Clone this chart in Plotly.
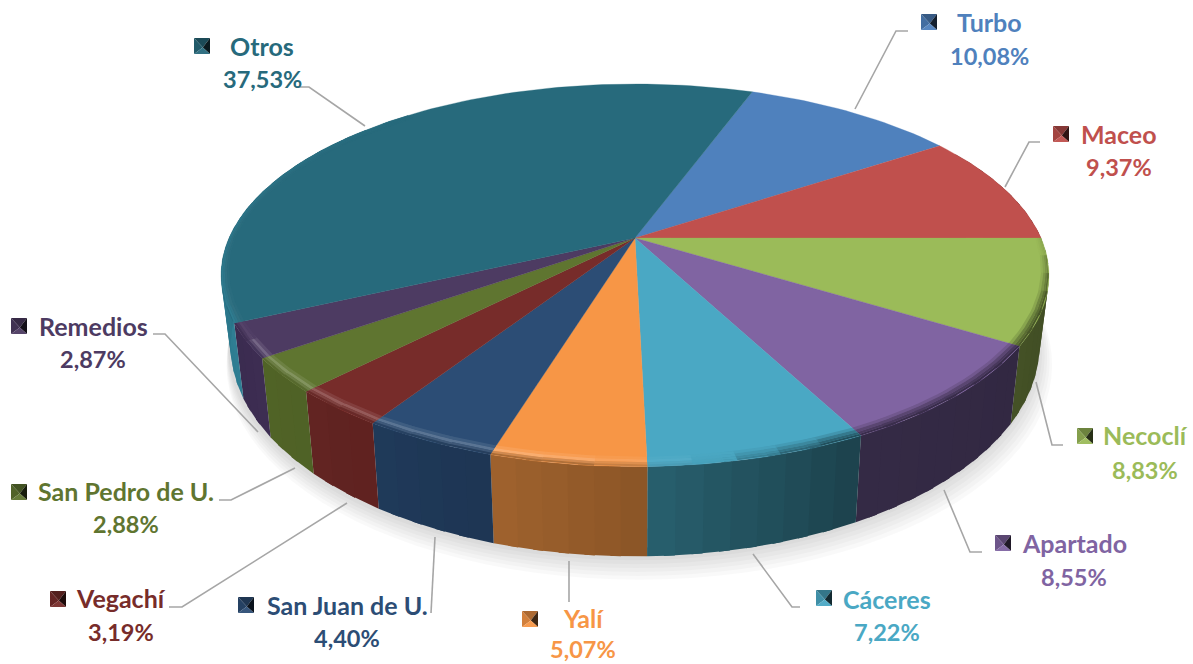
import math
import plotly.graph_objects as go

# ---- data ----
names = ["Turbo", "Maceo", "Necoclí", "Apartado", "Cáceres", "Yalí",
         "San Juan de U.", "Vegachí", "San Pedro de U.", "Remedios", "Otros"]
shares = [10.08, 9.37, 8.83, 8.55, 7.22, 5.07, 4.40, 3.19, 2.88, 2.87, 37.53]
share_labels = ["10,08%", "9,37%", "8,83%", "8,55%", "7,22%", "5,07%",
                "4,40%", "3,19%", "2,88%", "2,87%", "37,53%"]

# ---- styles ----
top_colors = ["#4f81bd", "#c0504d", "#9bbb59", "#8064a2", "#4aa8c4", "#f79646",
              "#2c4d75", "#772c2a", "#5f7530", "#4d3b62", "#276a7c"]
wall_right = ["#2f4d72", "#6f2e2c", "#3e4a22", "#322842", "#1c414c", "#8a5526",
              "#1e3553", "#5f2220", "#4f6226", "#3d2d52", "#1f6070"]
wall_left = ["#2f4d72", "#6f2e2c", "#445126", "#342a45", "#28606e", "#a0622e",
             "#1f3a5a", "#622422", "#506326", "#3b2c50", "#2f7f94"]

# ---- layout of the picture (pixels of the 1193x664 canvas) ----
W, H = 1193, 664
CX, CY = 635, 238          # pie apex
A, B, K = 406, 184, 0.195  # disc perspective
START = 20.0               # clockwise angle of the first slice, degrees
DEPTH_SX, DEPTH_SY, DEPTH_DY = 0.977, 1.10, 43.2

label_pos = [(989, 22, 56), (1119, 134, 167), (1145, 435, 470), (1074, 543, 577),
             (887, 599, 632), (583, 618, 649), (347, 605, 638), (121, 598, 632),
             (126, 491, 524), (93, 326, 359), (262, 46, 79)]
marker_pos = [(921, 14), (1053, 126), (1077, 428), (995, 535), (816, 590), (522, 611),
              (238, 597), (50, 591), (11, 484), (11, 318), (194, 38)]
leader_x = [[908, 896, 855], [1040, 1029, 1005], [1063, 1052, 1036], [982, 970, 944],
            [800, 792, 753], [569, 569], [431, 435], [169, 182, 347],
            [219, 231, 295], [153, 165, 258], [297, 309, 365]]
leader_y = [[31, 31, 109], [142, 142, 187], [445, 445, 382], [552, 552, 490],
            [607, 607, 554], [602, 561], [613, 537], [607, 607, 503],
            [500, 500, 468], [334, 334, 432], [87, 87, 126]]
MARKER = 16


def top_pt(r, deg):
    t = math.radians(deg)
    u, v = r * math.sin(t), -r * math.cos(t)
    w = 1 - K * v
    return CX + A * u / w, CY + B * v / w


def low_pt(r, deg):
    x, y = top_pt(r, deg)
    return CX + DEPTH_SX * (x - CX), DEPTH_SY * y + DEPTH_DY


def rgb(c):
    c = c.lstrip("#")
    return [int(c[i:i + 2], 16) for i in (0, 2, 4)]


def mix(c1, c2, f):
    a, b = rgb(c1), rgb(c2)
    return "#%02x%02x%02x" % tuple(round(a[i] + (b[i] - a[i]) * f) for i in range(3))


fig = go.Figure()


def poly(xs, ys, color, line=0.6):
    fig.add_trace(go.Scatter(x=xs + xs[:1], y=ys + ys[:1], mode="lines", fill="toself",
                             fillcolor=color, line=dict(color=color, width=line),
                             hoverinfo="skip", showlegend=False))


# slice limits from the values
total = sum(shares)
edges = [START]
for s in shares:
    edges.append(edges[-1] + s / total * 360)

# soft shadow under the pie
for off in (18, 15, 12, 9, 6, 3):
    pts = [low_pt(1 + off / 900, d) for d in range(0, 361, 3)]
    fig.add_trace(go.Scatter(x=[p[0] + off * 0.35 - 2 for p in pts], y=[p[1] + off * 0.95 for p in pts],
                             mode="lines", fill="toself", fillcolor="rgba(0,0,0,0.022)",
                             line=dict(width=0), hoverinfo="skip", showlegend=False))

# side walls (each strip overlaps the next one so that no seam shows)
for i in range(len(shares)):
    a0, a1 = edges[i], edges[i + 1]
    lo, hi = max(a0, 60), min(a1, 310)
    if lo >= hi:
        continue
    n = max(2, int((hi - lo) / 3))
    for j in range(n):
        d0 = lo + (hi - lo) * j / n
        d1 = hi if j == n - 1 else lo + (hi - lo) * (j + 1.4) / n
        f = (j + 0.5) / n
        col = mix(wall_right[i], wall_left[i], 1 - f if a1 > 300 else f)
        p = [top_pt(1, d0), top_pt(1, d1), low_pt(1, d1), low_pt(1, d0)]
        poly([q[0] for q in p], [q[1] for q in p], col, line=0)

# top faces
for i in range(len(shares)):
    n = max(4, int((edges[i + 1] - edges[i]) / 1.5))
    pts = [top_pt(1, edges[i] + (edges[i + 1] - edges[i]) * j / n) for j in range(n + 1)]
    poly([CX] + [p[0] for p in pts], [CY] + [p[1] for p in pts], top_colors[i], line=0.3)


def rim_gain(d):
    if d < 90 or d > 320:
        return 0.0, 0.0
    g = max(-1.0, min(1.0, (d - 172) / 18))
    fade = abs(g)
    if d < 110:
        g *= (d - 90) / 20
        fade = abs(g)
    if d > 240:
        fade = max(0.0, (320 - d) / 80)
        g *= fade * 0.2
    return g, fade


def rim_pt(r, d):
    scale = 0.4 + 0.6 * abs(math.cos(math.radians(d)))
    return top_pt(1 - (1 - r) * scale, d)


# bevelled rim
strips = [(0.965, 0.975, 0.4, 0), (0.975, 0.985, 1.0, 0),
          (0.985, 0.993, 1.0, 0.45), (0.993, 1.0, 1.0, 0.85)]
for i in range(len(shares)):
    lo, hi = max(edges[i], 90), min(edges[i + 1], 320)
    if lo >= hi:
        continue
    n = max(1, int((hi - lo) / 5))
    for j in range(n):
        d0 = lo + (hi - lo) * j / n
        d1 = hi if j == n - 1 else lo + (hi - lo) * (j + 1.3) / n
        dm = lo + (hi - lo) * (j + 0.5) / n
        g, fade = rim_gain(dm)
        f = (j + 0.5) / n
        wall = wall_left[i] if edges[i + 1] > 300 else mix(wall_right[i], wall_left[i], f)
        hl = mix(top_colors[i], "#ffffff", 0.22 * g) if g > 0 else mix(top_colors[i], "#000000", -0.3 * g)
        for r0, r1, amt, to_wall in strips:
            col = mix(mix(top_colors[i], hl, amt), wall, to_wall * fade)
            p = [rim_pt(r0, d0), rim_pt(r0, d1), rim_pt(r1, d1), rim_pt(r1, d0)]
            poly([q[0] for q in p], [q[1] for q in p], col, line=0)

# leader lines
for xs, ys in zip(leader_x, leader_y):
    fig.add_trace(go.Scatter(x=xs, y=ys, mode="lines", line=dict(color="#a6a6a6", width=1.6),
                             hoverinfo="skip", showlegend=False))

# legend keys, a small bevelled square
for i, (mx, my) in enumerate(marker_pos):
    c = top_colors[i]
    x0, x1, y0, y1 = mx, mx + MARKER, my, my + MARKER
    xc, yc = mx + MARKER * 0.55, my + MARKER * 0.6
    poly([x0, x1, xc], [y0, y0, yc], mix(c, "#000000", 0.3), line=0)
    poly([x0, xc, x0], [y0, yc, y1], mix(c, "#000000", 0.15), line=0)
    poly([x1, xc, x1], [y0, yc, y1], mix(c, "#000000", 0.75), line=0)
    poly([x0, x1, xc], [y1, y1, yc], mix(c, "#ffffff", 0.05), line=0)

# labels
FONT = "Lato"
for i, (lx, ny, py) in enumerate(label_pos):
    fig.add_annotation(x=lx, y=ny, text="<b>%s</b>" % names[i], showarrow=False,
                       font=dict(family=FONT, size=25, color=top_colors[i]))
    fig.add_annotation(x=lx, y=py, text="<b>%s</b>" % share_labels[i], showarrow=False,
                       font=dict(family=FONT, size=23.5, color=top_colors[i]))

fig.update_layout(width=W, height=H, margin=dict(l=0, r=0, t=0, b=0),
                  paper_bgcolor="white", plot_bgcolor="white", showlegend=False,
                  xaxis=dict(range=[0, W], visible=False, fixedrange=True),
                  yaxis=dict(range=[H, 0], visible=False, fixedrange=True))
fig.write_html("out.html", config=dict(displayModeBar=False),
               post_script="document.body.style.margin='0';")
